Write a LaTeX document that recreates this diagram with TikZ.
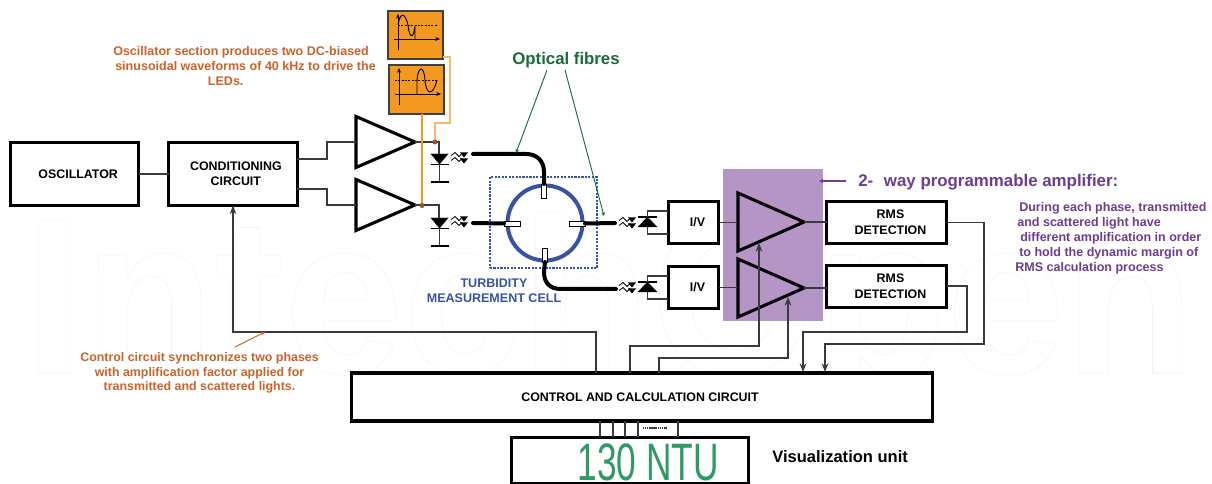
\documentclass[tikz,border=0pt]{standalone}
\usepackage{fontspec}
\setmainfont{Liberation Sans}
\newfontfamily\wmfont{Liberation Sans}[BoldFeatures={FakeBold=0.012}]
\usetikzlibrary{arrows.meta,shapes.geometric,calc}
\def\pu{0.75pt}
\definecolor{wirec}{HTML}{3A3A3A}
\definecolor{orangefill}{HTML}{F4991F}
\definecolor{orangeline}{HTML}{F09A20}
\definecolor{orangepale}{HTML}{F7B96A}
\definecolor{orangetext}{HTML}{C9642C}
\definecolor{purplefill}{HTML}{B594C6}
\definecolor{purpletext}{HTML}{6E3D8F}
\definecolor{greentext}{HTML}{1C6B3C}
\definecolor{cellblue}{HTML}{3953A4}
\definecolor{lcdgreen}{HTML}{2F9A66}
\tikzset{
  x=0.75pt,y=-0.75pt,
  blockbox/.style={draw=black,line width=2.3pt,fill=white,inner sep=0pt,outer sep=0pt,align=center,font=\fontsize{9.3pt}{11.3pt}\selectfont\bfseries},
  ampbox/.style={draw=black,line width=2.3pt,isosceles triangle,isosceles triangle stretches,shape border rotate=0,inner sep=0pt,outer sep=0pt,anchor=apex,minimum height=59*\pu,minimum width=51*\pu,line join=miter},
  ampboxb/.style={ampbox,minimum height=66*\pu,minimum width=58*\pu},
  wire/.style={draw=wirec,line width=0.8pt},
  ctlarrow/.style={wire,-{Stealth[length=6.5pt,width=5pt]}},
  fibre/.style={draw=black,line width=3pt,line cap=round},
  probe/.style={draw=black,fill=white,line width=0.6pt,inner sep=0pt,outer sep=0pt},
  scopebox/.style={draw=black!75,line width=0.8pt,fill=orangefill,inner sep=0pt,outer sep=0pt},
  axisline/.style={draw=black,line width=0.6pt,-{Stealth[length=3.5pt,width=3pt]}},
  otext/.style={text=orangetext,font=\fontsize{9.4pt}{11.25pt}\selectfont\bfseries,align=left,inner sep=0pt},
  ptext/.style={text=purpletext,font=\fontsize{9.4pt}{11pt}\selectfont\bfseries,anchor=west,inner sep=0pt},
  diodeshape/.style={fill=black,draw=black,line width=0.3pt},
  lightglyph/.pic={
    \draw[black,line width=0.6pt] (-8,-3) -- (-4,-6) -- (0,-2) -- (3,-5);
    \draw[black,line width=0.6pt] (-8,2) -- (-4,-1) -- (0,3) -- (3,0);
    \fill[black] (1,-6) -- (9,-6) -- (5,-1) -- cycle;
    \fill[black] (1,0) -- (9,0) -- (5,5) -- cycle;
  }
}
\begin{document}
\begin{tikzpicture}
\useasboundingbox (0,0) rectangle (1212,484);
\fill[white] (0,0) rectangle (1212,484);
% watermark
\node[anchor=base west,inner sep=0pt,xscale=0.955] (wm) at (24.5,373) {\fontsize{167pt}{167pt}\wmfont\bfseries\color{white}\special{pdf:code 0.85 0.85 0.85 RG}IntechOpen};

% purple band
\node[fill=purplefill,minimum width=100*\pu,minimum height=152*\pu,inner sep=0pt] (band) at (773,245) {};

% blocks
\node[blockbox,minimum width=128*\pu,minimum height=63*\pu] (osc) at (74.5,174) {\hspace*{5.5pt}OSCILLATOR};
\node[blockbox,minimum width=128.5*\pu,minimum height=63*\pu] (cond) at (233.2,174) {\hspace*{4pt}CONDITIONING\\\hspace*{4pt}CIRCUIT};
\node[blockbox,minimum width=50*\pu,minimum height=42*\pu] (iv1) at (693.5,222.5) {\hspace*{6pt}I/V};
\node[blockbox,minimum width=50*\pu,minimum height=42*\pu] (iv2) at (693.5,287.5) {\hspace*{6pt}I/V};
\node[blockbox,align=center,font=\fontsize{9.3pt}{11.9pt}\selectfont\bfseries,minimum width=120*\pu,minimum height=42*\pu] (rms1) at (886.5,222.5) {\hspace*{6pt}RMS\\\hspace*{6pt}DETECTION};
\node[blockbox,font=\fontsize{9.3pt}{11.9pt}\selectfont\bfseries,minimum width=120*\pu,minimum height=42*\pu] (rms2) at (886.5,286.5) {\hspace*{6pt}RMS\\\hspace*{6pt}DETECTION};
\node[blockbox,minimum width=581*\pu,minimum height=48*\pu] (ctrl) at (642,397) {\hspace*{-3pt}CONTROL AND CALCULATION CIRCUIT};
\node[blockbox,minimum width=237*\pu,minimum height=46*\pu] (lcd) at (630,460.5) {};
\node[text=lcdgreen,inner sep=0pt,xscale=0.67,font=\fontsize{39.5pt}{40pt}\selectfont,anchor=base,text depth=0pt] (lcdtext) at (648,480) {130 NTU};

% amplifiers
\node[ampbox] (a1) at (415,142) {};
\node[ampbox] (a2) at (415,205) {};
\node[ampboxb] (a3) at (804,222) {};
\node[ampboxb] (a4) at (804,288) {};

% wiring
\draw[wire] (osc.east) -- (cond.west);
\draw[wire] ($(cond.east)+(0,-15)$) -| (327,142) -- (a1.lower side |- 0,142);
\draw[wire] ($(cond.east)+(0,15)$) -| (327,205) -- (a2.lower side |- 0,205);
\coordinate (d1top) at (439,154);
\coordinate (d2top) at (439,218);
\draw[wire] (a1.apex) -| (d1top);
\draw[wire] (a2.apex) -| (d2top);
\draw[wire] (iv1.east) -- (738,222.5);
\draw[wire] (iv2.east) -- (738,287.5);
\draw[wire] (a3.apex) -- (rms1.west |- a3.apex);
\draw[wire] (a4.apex) -- (rms2.west |- a4.apex);
\draw[ctlarrow] (ctrl.north -| 630,0) |- (759,346) -- (759,243);
\draw[ctlarrow] (ctrl.north -| 659,0) |- (788,358) -- (788,297);
\draw[ctlarrow] (rms1.east) -| (984,344) -| (825,372);
\draw[ctlarrow] ($(rms2.east)+(0,-0.5)$) -| (967,332) -| (803,372);
\draw[ctlarrow] (ctrl.north -| 596,0) |- (233,332) -- (cond.south -| 233,0);
\foreach \xx in {600,613,625,638,678} \draw[wire] (\xx,421) -- (\xx,437);
\draw[wire,dash pattern=on 1pt off 0.4pt] (643,428) -- (667,428);

% LED / photodiode symbols
\foreach \yy in {154,218} {
  \fill[diodeshape] (431,\yy) -- (448,\yy) -- (439.5,\yy+10) -- cycle;
  \draw[black,line width=1.1pt] (430.5,\yy+10.5) -- (448.5,\yy+10.5);
  \draw[wire] (439.5,\yy+10) -- (439.5,\yy+28);
  \draw[black,line width=1.1pt] (430.5,\yy+28) -- (448.5,\yy+28);
  \pic at (459,\yy+4.5) {lightglyph};
}
\foreach \yy in {217,282} {
  \fill[diodeshape] (647.5,\yy) -- (657,\yy+10) -- (638,\yy+10) -- cycle;
  \draw[black,line width=1.1pt] (638,\yy) -- (657,\yy);
  \draw[wire] (668,\yy-6) -| (647.5,\yy);
  \draw[wire] (668,\yy+17) -| (647.5,\yy+10);
  \pic at (627,\yy+6.5) {lightglyph};
}

% turbidity cell
\node[draw=cellblue,line width=1.2pt,dash pattern=on 1.6pt off 1pt,minimum width=107*\pu,minimum height=91*\pu,inner sep=0pt] (cellbox) at (543.5,222.5) {};
\node[circle,draw=cellblue,line width=3pt,minimum size=75*\pu,inner sep=0pt,outer sep=0pt] (cell) at (545,223) {};
\coordinate (f1s) at (473,154);
\coordinate (f2s) at (473,223);
\coordinate (f3e) at (615,223);
\coordinate (f4e) at (616,289);
\node[probe,minimum width=5.5*\pu,minimum height=14*\pu] (pt) at (544,191) {};
\node[probe,minimum width=5.5*\pu,minimum height=14*\pu] (pb) at (545,255) {};
\node[probe,minimum width=16*\pu,minimum height=5*\pu] (pl) at (512,223.5) {};
\node[probe,minimum width=16*\pu,minimum height=5*\pu] (pr) at (577,223.5) {};
\draw[fibre] (f1s) -- (526,154) .. controls (537,154) and (544,161) .. (544,172) -- (pt.north);
\draw[fibre] (f2s) -- (pl.west);
\draw[fibre] (pr.east) -- (f3e);
\draw[fibre] (pb.south) -- (544,272) .. controls (544,283) and (550,289) .. (561,289) -- (f4e);

% scope boxes
\node[scopebox,minimum width=55*\pu,minimum height=48*\pu] (sc1) at (415.5,35) {};
\node[scopebox,minimum width=55*\pu,minimum height=49*\pu] (sc2) at (416.5,89.5) {};
\draw[axisline] (398,50) -- (398,14);
\draw[axisline] (394,39) -- (440,39);
\draw[black,dash pattern=on 1.5pt off 1pt,line width=0.6pt] (398,25) -- (437,25);
\draw[black,line width=0.7pt] (398,25) .. controls (400,12) and (405,12) .. (408,25) .. controls (409,36) and (413,42) .. (415,26) -- (415,39);
\draw[axisline] (399,105) -- (399,68);
\draw[axisline] (395,94) -- (441,94);
\draw[black,dash pattern=on 1.5pt off 1pt,line width=0.6pt] (395,80) -- (437,80);
\draw[black,line width=0.7pt] (417,94) -- (417,80) .. controls (418,66) and (424,65) .. (425,80) .. controls (426,95) and (433,97) .. (437,80);
\draw[orangepale,line width=0.9pt] (sc1.east |- 0,57) -- (450,57) -- (450,123) -- (435,123) -- (435,142);
\draw[orangeline,line width=0.8pt] (sc2.south -| 422,0) -- (422,205);
\fill[orangetext!80!black,draw=black!60] (435,142) circle[radius=2.2];
\fill[orangetext!80!black,draw=black!60] (422,205.5) circle[radius=2.2];

% labels
\node[otext,anchor=north west] (t1) at (113,46) {Oscillator section produces two DC-biased\\\hspace*{1.5pt}sinusoidal waveforms of 40 kHz to drive the\\\hspace*{71pt}LEDs.};
\node[otext,align=center,font=\fontsize{9.3pt}{10.9pt}\selectfont\bfseries] (t2) at (199.5,373) {Control circuit synchronizes two phases\\with amplification factor applied for\\transmitted and scattered lights.};
\coordinate (t2a) at (235,347);
\draw[orangetext,line width=0.8pt,-{Stealth[length=3pt,width=3pt]}] (t2a) -- (265,332);
\node[text=greentext,font=\fontsize{12.6pt}{14pt}\selectfont\bfseries,inner sep=0pt] (opt) at (566,60) {Optical fibres};
\coordinate (g1) at (547,70);
\coordinate (g2) at (565,70);
\draw[greentext,line width=0.7pt,-{Stealth[length=3pt,width=3pt]}] (g1) -- (516,153);
\draw[greentext,line width=0.7pt,-{Stealth[length=3pt,width=3pt]}] (g2) -- (604,216);
\node[text=cellblue,font=\fontsize{9.4pt}{10.9pt}\selectfont\bfseries,align=center,inner sep=0pt] (cellt) at (494,291) {TURBIDITY\\MEASUREMENT CELL};
\node[text=purpletext,font=\fontsize{12.65pt}{14pt}\selectfont\bfseries,anchor=west,inner sep=0pt] (pa) at (858,182) {2-\hspace{8pt}way programmable amplifier:};
\coordinate (pa1) at (846,181);
\draw[purpletext,line width=0.8pt,-{Stealth[length=3pt,width=3pt]}] (pa1) -- (819,181);
\node[ptext] (p1) at (1019,208) {During each phase, transmitted};
\node[ptext] (p2) at (1017,223) {and scattered light have};
\node[ptext] (p3) at (1020,238) {different amplification in order};
\node[ptext] (p4) at (1019,253) {to hold the dynamic margin of};
\node[ptext] (p5) at (1015,268) {RMS calculation process};
\node[font=\fontsize{12.4pt}{14pt}\selectfont\bfseries,anchor=west,inner sep=0pt] (vis) at (772,457) {Visualization unit};
\end{tikzpicture}
\end{document}
